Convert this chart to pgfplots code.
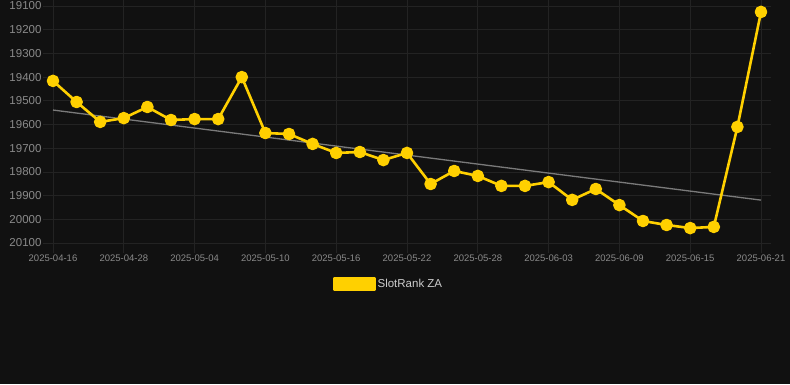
\documentclass[border=0pt]{standalone}
\usepackage{pgfplots}
\pgfplotsset{compat=1.18}
\usepackage{fontspec}
\setmainfont{Liberation Sans}
\definecolor{bg}{HTML}{111111}
\definecolor{gridc}{HTML}{232323}
\definecolor{tickc}{HTML}{8A8A8A}
\definecolor{gold}{HTML}{FFD000}
\definecolor{trend}{HTML}{7A7A7A}
\begin{document}
\begin{tikzpicture}[x=1pt,y=1pt]
\fill[bg] (0,0) rectangle (790,384);
\useasboundingbox (0,0) rectangle (790,384);
\begin{axis}[
  at={(53pt,141pt)}, anchor=south west,
  scale only axis, width=708pt, height=237pt,
  xmin=0, xmax=30, ymin=19100, ymax=20100, y dir=reverse,
  xtick={0,3,...,30},
  xticklabels={2025-04-16,2025-04-28,2025-05-04,2025-05-10,2025-05-16,2025-05-22,2025-05-28,2025-06-03,2025-06-09,2025-06-15,2025-06-21},
  ytick={19100,19200,...,20100},
  scaled y ticks=false,
  /pgf/number format/assume math mode=true,
  yticklabel={\pgfmathprintnumber[fixed,precision=0,1000 sep={}]{\tick}},
  axis line style={draw=none},
  grid=major, major grid style={gridc, line width=0.8pt},
  tick align=outside, major tick length=10pt, tick style={gridc, line width=0.8pt},
  x tick label style={font=\fontsize{9.5}{10}\selectfont, text=tickc, yshift=2pt},
  y tick label style={font=\fontsize{11.5}{12}\selectfont, text=tickc, xshift=2pt},
  clip=false,
  legend style={at={(axis description cs:0.474,-0.173)}, anchor=center, draw=none, fill=none,
    text=white!80!black, font=\fontsize{11.5}{12}\selectfont},
  legend image code/.code={\fill[gold] (0pt,-6pt) rectangle (40pt,6pt);},
]
\addplot[trend, line width=1.3pt, forget plot] coordinates {(0,19539) (30,19919)};
\addplot[gold, line width=2.6pt, line join=round, mark=*, mark size=5pt, mark options={solid, fill=gold, draw=none}] coordinates {
(0,19416) (1,19505) (2,19589) (3,19573) (4,19526) (5,19581) (6,19577) (7,19577)
(8,19400) (9,19636) (10,19640) (11,19682) (12,19720) (13,19716) (14,19750)
(15,19720) (16,19851) (17,19796) (18,19817) (19,19859) (20,19859) (21,19843)
(22,19918) (23,19872) (24,19940) (25,20007) (26,20024) (27,20037) (28,20032)
(29,19610) (30,19125)};
\addlegendentry{SlotRank ZA}
\end{axis}
\end{tikzpicture}
\end{document}
